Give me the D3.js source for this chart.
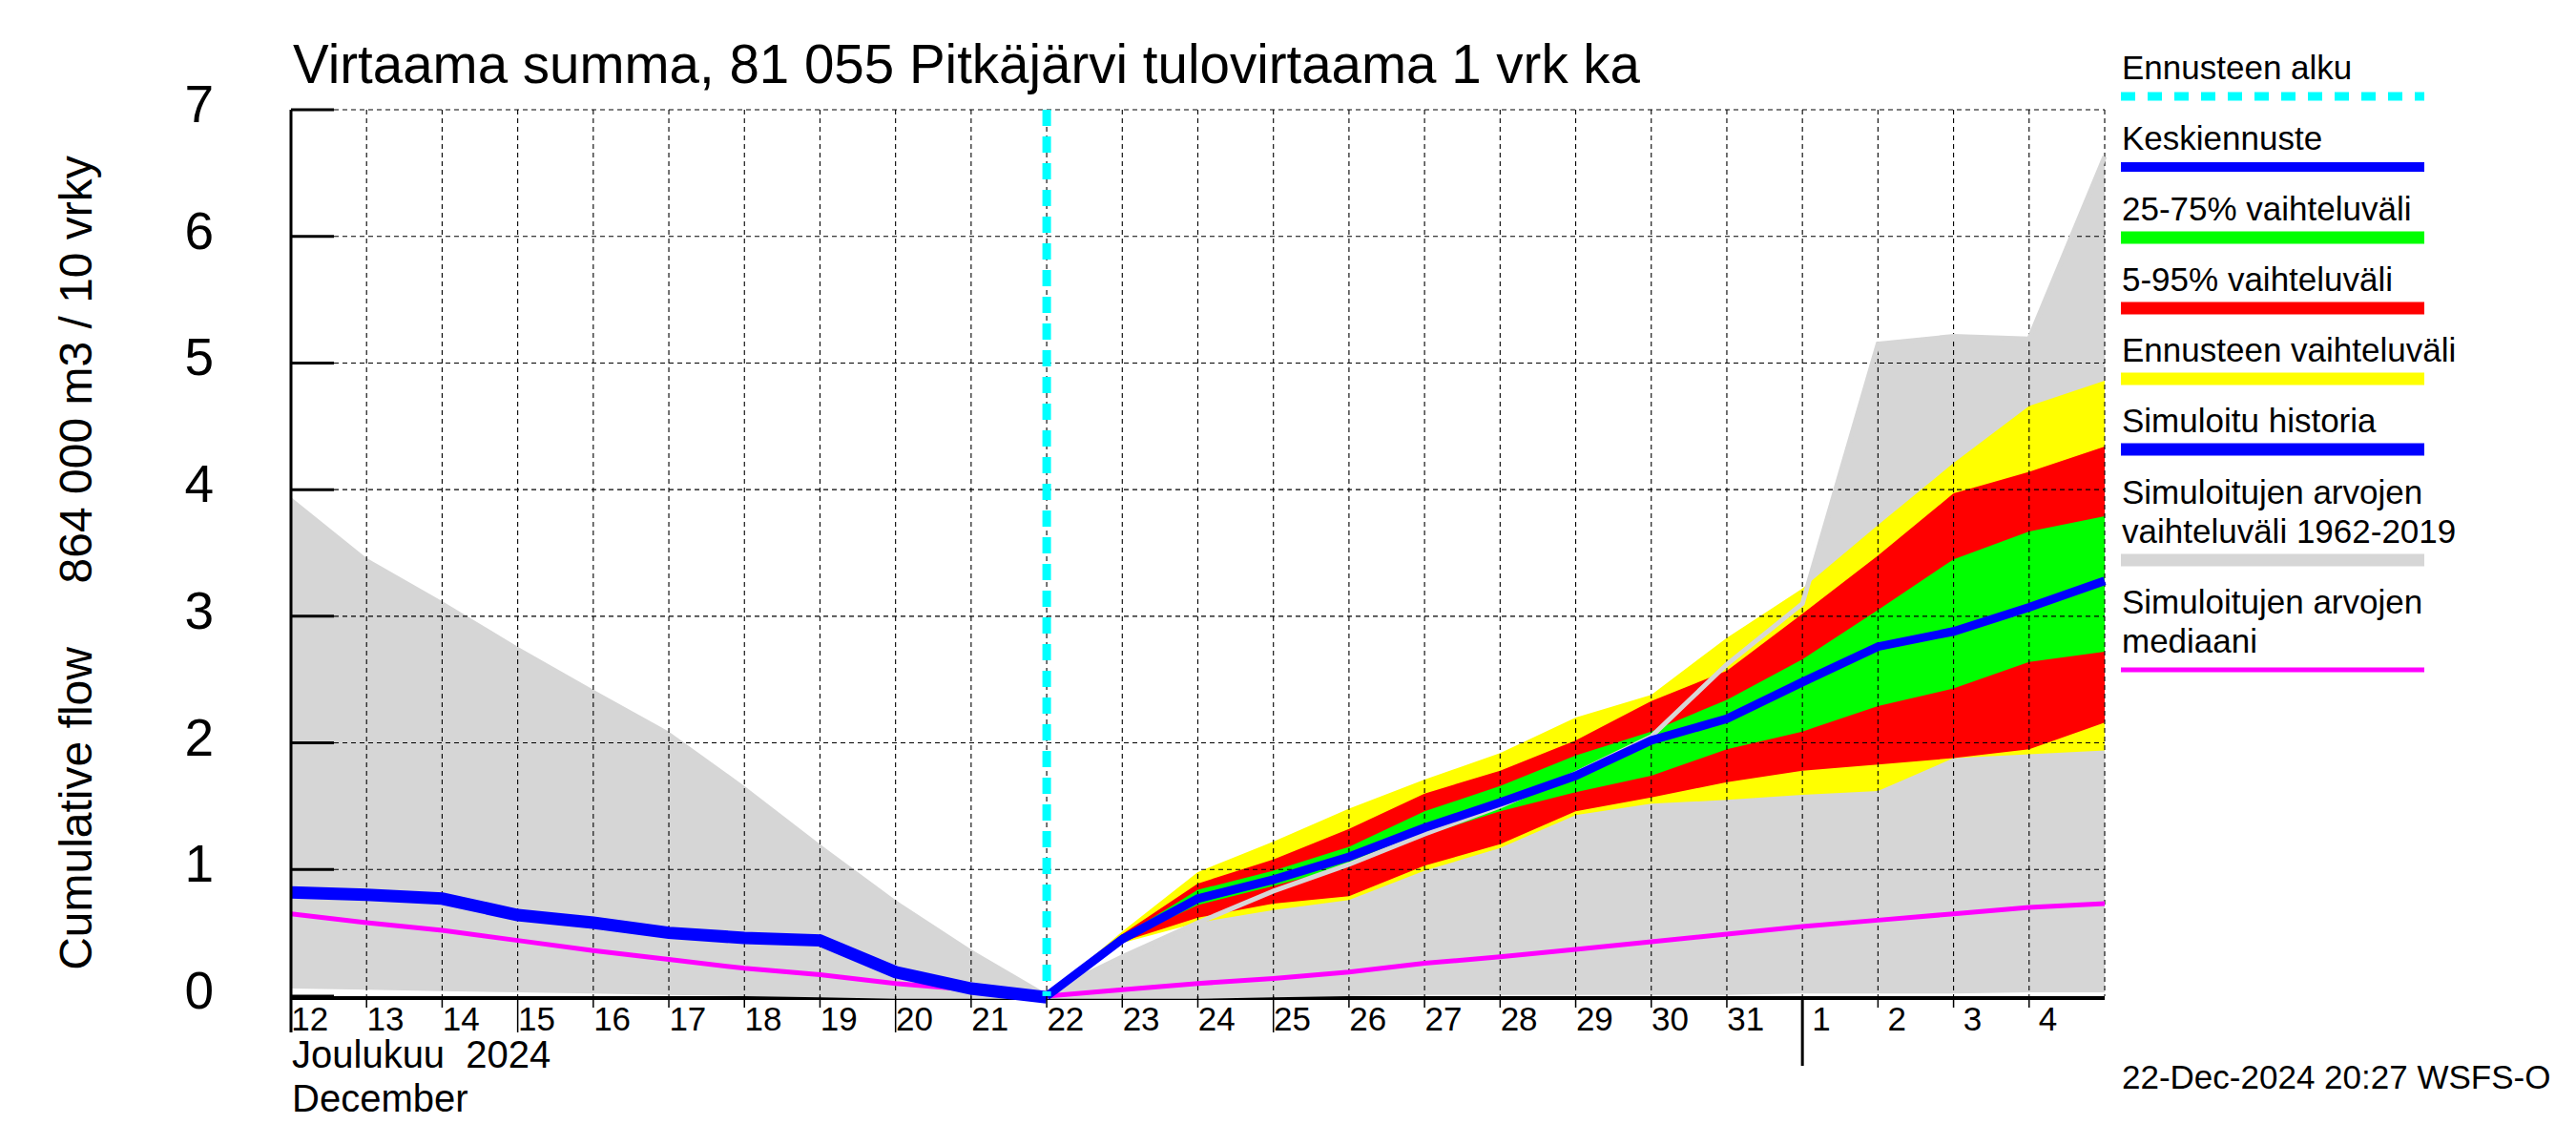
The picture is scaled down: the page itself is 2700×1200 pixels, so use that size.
<!DOCTYPE html>
<html>
<head>
<meta charset="utf-8">
<script src="https://cdn.jsdelivr.net/npm/d3@7"></script>
<style>
  body { margin: 0; background: #fff; }
  text { font-family: "Liberation Sans", Arial, sans-serif; fill: #000; }
</style>
</head>
<body>
<div id="chart"></div>
<script>
// days of the whole chart (Dec 12 .. Jan 5)
const days = ["2024-12-12","2024-12-13","2024-12-14","2024-12-15","2024-12-16","2024-12-17",
  "2024-12-18","2024-12-19","2024-12-20","2024-12-21","2024-12-22","2024-12-23","2024-12-24",
  "2024-12-25","2024-12-26","2024-12-27","2024-12-28","2024-12-29","2024-12-30","2024-12-31",
  "2025-01-01","2025-01-02","2025-01-03","2025-01-04","2025-01-05"];
const dayLabels = ["12","13","14","15","16","17","18","19","20","21","22","23","24","25",
  "26","27","28","29","30","31","1","2","3","4"];
const longTickDays = ["2024-12-12","2024-12-15","2024-12-20","2024-12-25"];
const yTicks = [0, 1, 2, 3, 4, 5, 6, 7];

// simulated range 1962-2019 and its median (all days)
const simMax = [3.94, 3.46, 3.12, 2.76, 2.42, 2.09, 1.66, 1.20, 0.76, 0.37, 0.02, 0.31, 0.58,
  0.83, 1.04, 1.28, 1.50, 1.76, 2.05, 2.62, 3.10, 5.15, 5.21, 5.19, 6.63];
const simMin = [0.06, 0.05, 0.04, 0.03, 0.02, 0.01, 0.0, -0.01, -0.02, -0.02, -0.02, -0.02, -0.02,
  -0.01, 0.0, 0.01, 0.01, 0.01, 0.01, 0.01, 0.02, 0.02, 0.02, 0.03, 0.03];
const simMedian = [0.65, 0.58, 0.52, 0.44, 0.36, 0.29, 0.22, 0.17, 0.10, 0.05, 0.0, 0.05, 0.10,
  0.14, 0.19, 0.26, 0.31, 0.37, 0.43, 0.49, 0.55, 0.60, 0.65, 0.70, 0.73];

// simulated history (Dec 12 .. Dec 22)
const histDays = days.slice(0, 11);
const history = [0.82, 0.80, 0.77, 0.64, 0.58, 0.50, 0.46, 0.44, 0.19, 0.06, -0.01];

// forecast (Dec 22 .. Jan 5)
const fcDays = days.slice(10);
const fcMean  = [0, 0.45, 0.77, 0.92, 1.10, 1.33, 1.53, 1.74, 2.02, 2.19, 2.48, 2.76, 2.88, 3.07, 3.28];
const fcMax   = [0, 0.51, 0.98, 1.22, 1.48, 1.71, 1.92, 2.20, 2.38, 2.83, 3.22, 3.72, 4.21, 4.66, 4.86];
const fcP95   = [0, 0.49, 0.89, 1.08, 1.32, 1.60, 1.78, 2.02, 2.33, 2.57, 3.02, 3.48, 3.97, 4.14, 4.34];
const fcP75   = [0, 0.47, 0.84, 0.99, 1.18, 1.46, 1.66, 1.90, 2.09, 2.34, 2.66, 3.05, 3.45, 3.67, 3.79];
const fcP25   = [0, 0.44, 0.72, 0.87, 1.03, 1.27, 1.46, 1.61, 1.74, 1.95, 2.09, 2.29, 2.43, 2.64, 2.72];
const fcP05   = [0, 0.43, 0.62, 0.73, 0.79, 1.03, 1.20, 1.46, 1.57, 1.69, 1.78, 1.83, 1.88, 1.95, 2.16];
const fcMin   = [0, 0.42, 0.58, 0.68, 0.76, 0.99, 1.17, 1.43, 1.52, 1.55, 1.59, 1.62, 1.88, 1.91, 1.94];

const forecastStart = "2024-12-22";

const legendLabels = [
  ["Ennusteen alku"], ["Keskiennuste"], ["25-75% vaihteluväli"], ["5-95% vaihteluväli"],
  ["Ennusteen vaihteluväli"], ["Simuloitu historia"],
  ["Simuloitujen arvojen", "vaihteluväli 1962-2019"], ["Simuloitujen arvojen", "mediaani"]
];

const width = 2700, height = 1200;
const parse = d3.timeParse("%Y-%m-%d");

const x = d3.scaleTime()
  .domain([parse(days[0]), parse(days[days.length - 1])])
  .range([305, 2206]);
const y = d3.scaleLinear().domain([0, 7]).range([1044, 115]);
const dayW = x(parse(days[1])) - x(parse(days[0]));

const svg = d3.select("#chart").append("svg")
  .attr("width", width).attr("height", height);
svg.append("rect").attr("width", width).attr("height", height).attr("fill", "#fff");

// bottom axis line (drawn under the grey band, like the original)
svg.append("line")
  .attr("x1", x.range()[0]).attr("x2", x.range()[1])
  .attr("y1", y(0) + 2).attr("y2", y(0) + 2)
  .attr("stroke", "#000").attr("stroke-width", 4);

const band = (dd, lo, hi) => d3.area()
  .x((d, i) => x(parse(dd[i])))
  .y0((d, i) => y(lo[i]))
  .y1((d, i) => y(hi[i]))(dd);

svg.append("path").attr("d", band(days, simMin, simMax)).attr("fill", "#d6d6d6");
svg.append("path").attr("d", band(fcDays, fcMin, fcMax)).attr("fill", "#ffff00");
svg.append("path").attr("d", band(fcDays, fcP05, fcP95)).attr("fill", "#ff0000");
svg.append("path").attr("d", band(fcDays, fcP25, fcP75)).attr("fill", "#00ff00");

// grid
const grid = svg.append("g").attr("stroke", "#000").attr("stroke-width", 1.1)
  .attr("stroke-dasharray", "5,4");
grid.selectAll("line.h").data(yTicks.slice(1)).enter().append("line")
  .attr("x1", x.range()[0]).attr("x2", x.range()[1])
  .attr("y1", d => y(d)).attr("y2", d => y(d));
grid.selectAll("line.v").data(days.slice(1)).enter().append("line")
  .attr("x1", d => x(parse(d))).attr("x2", d => x(parse(d)))
  .attr("y1", y(7)).attr("y2", y(0));

const line = (dd, vals) => d3.line()
  .x((d, i) => x(parse(dd[i])))
  .y((d, i) => y(vals[i]))(dd);

// upper edge of the simulated range shows through the forecast bands
svg.append("path").attr("d", line(fcDays, simMax.slice(10)))
  .attr("fill", "none").attr("stroke", "#d6d6d6").attr("stroke-width", 5);

svg.append("path").attr("d", line(days, simMedian))
  .attr("fill", "none").attr("stroke", "#ff00ff").attr("stroke-width", 5);
svg.append("path").attr("d", line(histDays, history))
  .attr("fill", "none").attr("stroke", "#0000ff").attr("stroke-width", 13);
svg.append("path").attr("d", line(fcDays, fcMean))
  .attr("fill", "none").attr("stroke", "#0000ff").attr("stroke-width", 9);

// forecast start
svg.append("line")
  .attr("x1", x(parse(forecastStart))).attr("x2", x(parse(forecastStart)))
  .attr("y1", y(7)).attr("y2", y(0))
  .attr("stroke", "#00ffff").attr("stroke-width", 9).attr("stroke-dasharray", "17,11");

// y axis
svg.append("line")
  .attr("x1", x.range()[0]).attr("x2", x.range()[0])
  .attr("y1", y(7)).attr("y2", y(0) + 38)
  .attr("stroke", "#000").attr("stroke-width", 3);
svg.selectAll("line.yt").data(yTicks).enter().append("line")
  .attr("x1", x.range()[0]).attr("x2", x.range()[0] + 45)
  .attr("y1", d => y(d)).attr("y2", d => y(d))
  .attr("stroke", "#000").attr("stroke-width", 3);
svg.selectAll("text.yl").data(yTicks).enter().append("text")
  .attr("x", 224).attr("y", d => y(d) + 13)
  .attr("text-anchor", "end").style("font-size", "55px")
  .text(d => d);

// x axis ticks and labels
svg.selectAll("line.xt").data(days.slice(1, -1)).enter().append("line")
  .attr("x1", d => x(parse(d))).attr("x2", d => x(parse(d)))
  .attr("y1", y(0)).attr("y2", d => y(0) + (longTickDays.includes(d) ? 38 : 12))
  .attr("stroke", "#000").attr("stroke-width", 1.5);
svg.append("line")
  .attr("x1", x(parse("2025-01-01"))).attr("x2", x(parse("2025-01-01")))
  .attr("y1", y(0)).attr("y2", y(0) + 73)
  .attr("stroke", "#000").attr("stroke-width", 3);
svg.selectAll("text.xl").data(dayLabels).enter().append("text")
  .attr("x", (d, i) => x(parse(days[i])) + dayW * 0.25)
  .attr("y", 1080)
  .attr("text-anchor", "middle").style("font-size", "35px")
  .text(d => d);
svg.append("text").attr("x", 306).attr("y", 1119).style("font-size", "40px")
  .text("Joulukuu\u00a0 2024");
svg.append("text").attr("x", 306).attr("y", 1165).style("font-size", "40px")
  .text("December");

// titles
svg.append("text").attr("x", 307).attr("y", 87).style("font-size", "56.5px")
  .text("Virtaama summa, 81 055 Pitkäjärvi tulovirtaama 1 vrk ka");
svg.append("text")
  .attr("transform", "translate(96,590) rotate(-90)")
  .attr("text-anchor", "middle").style("font-size", "48px")
  .text("Cumulative flow\u00a0\u00a0\u00a0\u00a0\u00a0864 000 m3 / 10 vrky");

// legend
const legendSwatch = [
  {color: "#00ffff", w: 9, dash: "15,13"},
  {color: "#0000ff", w: 10},
  {color: "#00ff00", w: 13},
  {color: "#ff0000", w: 13},
  {color: "#ffff00", w: 13},
  {color: "#0000ff", w: 13},
  {color: "#d6d6d6", w: 13},
  {color: "#ff00ff", w: 5}
];
const legendTop = [83, 157, 231, 305, 379, 453, 528, 643];
const lg = svg.append("g");
legendLabels.forEach((lines, i) => {
  lines.forEach((t, j) => {
    lg.append("text").attr("x", 2224).attr("y", legendTop[i] + j * 41)
      .style("font-size", "35px").text(t);
  });
  const ly = legendTop[i] + (lines.length - 1) * 41 + 18;
  lg.append("line").attr("x1", 2223).attr("x2", 2541)
    .attr("y1", ly).attr("y2", ly)
    .attr("stroke", legendSwatch[i].color).attr("stroke-width", legendSwatch[i].w)
    .attr("stroke-dasharray", legendSwatch[i].dash || null);
});

svg.append("text").attr("x", 2224).attr("y", 1141).style("font-size", "35px")
  .text("22-Dec-2024 20:27 WSFS-O");
</script>
</body>
</html>
